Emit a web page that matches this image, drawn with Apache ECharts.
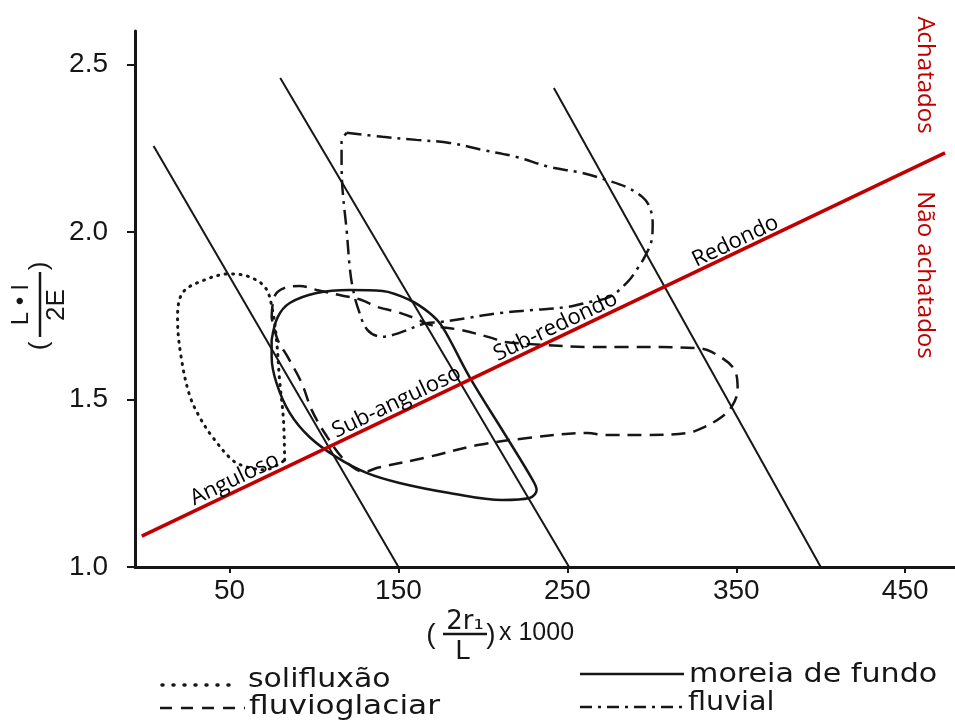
<!DOCTYPE html>
<html>
<head>
<meta charset="utf-8">
<script src="https://cdn.jsdelivr.net/npm/echarts@6/dist/echarts.min.js"></script>
<style>
  html, body { margin: 0; padding: 0; background: #fff; }
  #chart { width: 955px; height: 724px; }
</style>
</head>
<body>
<div id="chart"></div>
<script>
// Axis ticks
const xTicks = [50, 150, 250, 350, 450];
const yTicks = [1.0, 1.5, 2.0, 2.5];

// Roundness class boundaries (2r1/L x 1000, (L+l)/2E)
const boundaryA = [[5, 2.257], [150, 1.0]];
const boundaryB = [[80, 2.46], [251, 1.0]];
const boundaryC = [[242, 2.43], [400, 1.0]];

// Flat / not flat separation
const flatLine = [[-2, 1.092], [473.6, 2.236]];

// Class names written along the separation line, with their anchor points
const classNames = ['Anguloso', 'Sub-anguloso', 'Sub-redondo', 'Redondo'];
const classAnchors = [[53.0, 1.262], [148.9, 1.492], [243.0, 1.718], [349.5, 1.972]];

// Envelopes of each deposit type
const solifluxao = [
  [82.6, 1.319], [81.9, 1.439], [79.6, 1.558], [77.8, 1.678], [75.4, 1.767],
  [71.3, 1.833], [61.8, 1.866], [50.0, 1.875], [35.2, 1.857], [22.1, 1.818],
  [19.2, 1.737], [21.6, 1.618], [26.3, 1.513], [32.2, 1.448], [39.9, 1.388],
  [51.7, 1.319], [60.0, 1.299], [70.7, 1.290], [82.6, 1.319]
];

const moreiaDeFundo = [
  [74.9, 1.678], [78.5, 1.746], [85.6, 1.788], [101.5, 1.818], [121.1, 1.827],
  [140.6, 1.824], [156.6, 1.797], [168.4, 1.758], [176.1, 1.716], [192.1, 1.567],
  [214.0, 1.388], [229.4, 1.260], [231.8, 1.230], [227.6, 1.206], [211.6, 1.200],
  [180.2, 1.221], [150.6, 1.251], [131.1, 1.281], [113.3, 1.328], [97.3, 1.388],
  [85.6, 1.460], [77.8, 1.549], [74.9, 1.627], [74.9, 1.678]
];

const fluvioglaciar = [
  [74.9, 1.743], [76.7, 1.809], [82.6, 1.833], [91.5, 1.839], [101.5, 1.827],
  [115.1, 1.812], [128.1, 1.797], [137.6, 1.776], [149.4, 1.761], [159.5, 1.743],
  [169.5, 1.722], [187.3, 1.707], [205.1, 1.684], [212.8, 1.672], [236.5, 1.663],
  [260.2, 1.657], [285.7, 1.657], [325.3, 1.654], [335.4, 1.642], [349.0, 1.588],
  [350.8, 1.528], [347.2, 1.478], [341.3, 1.448], [331.3, 1.418], [321.2, 1.400],
  [295.7, 1.394], [272.1, 1.394], [262.0, 1.400], [226.5, 1.385], [196.9, 1.364],
  [167.3, 1.328], [137.6, 1.296], [129.9, 1.284], [118.1, 1.319], [106.3, 1.400],
  [98.6, 1.469], [92.7, 1.549], [84.4, 1.627], [78.5, 1.678], [74.9, 1.743]
];

const fluvial = [
  [119.3, 2.296], [140.6, 2.284], [160.7, 2.275], [180.3, 2.266], [199.8, 2.245],
  [219.9, 2.224], [239.5, 2.194], [259.0, 2.176], [273.2, 2.155], [285.0, 2.134],
  [294.5, 2.104], [298.7, 2.075], [300.5, 2.027], [299.9, 1.976], [295.7, 1.925],
  [291.0, 1.887], [285.7, 1.851], [275.0, 1.806], [263.1, 1.791], [249.5, 1.776],
  [229.4, 1.767], [209.9, 1.758], [190.3, 1.743], [174.3, 1.731], [166.6, 1.728],
  [150.6, 1.699], [140.6, 1.687], [131.7, 1.707], [125.8, 1.776], [122.8, 1.836],
  [121.1, 1.896], [119.3, 2.006], [116.9, 2.125], [116.3, 2.215], [116.3, 2.269],
  [119.3, 2.296]
];

const INK = '#161616';
const RED = '#c00000';
const tickFont = '"Liberation Sans", Arial, sans-serif';
const gothic = '"DejaVu Sans", sans-serif';

const chart = echarts.init(document.getElementById('chart'), null, { renderer: 'canvas' });

function straight(data, width) {
  return {
    type: 'line', data: data, symbol: 'none', silent: true,
    lineStyle: { color: INK, width: width, type: 'solid' }, z: 3
  };
}

function envelope(name, data, dash, width, cap) {
  return {
    name: name, type: 'line', data: data, symbol: 'none', smooth: 0.35, silent: true,
    lineStyle: { color: INK, width: width, type: dash, cap: cap || 'butt' }, z: 4
  };
}

function centred(extra) {
  return Object.assign({ fill: INK, textAlign: 'center', textVerticalAlign: 'middle',
    align: 'center', verticalAlign: 'middle' }, extra);
}

function leftText(extra) {
  return Object.assign({ fill: INK, fontFamily: gothic, fontSize: 26, textAlign: 'left',
    textVerticalAlign: 'middle', align: 'left', verticalAlign: 'middle' }, extra);
}

const option = {
  animation: false,
  backgroundColor: '#fff',
  grid: { left: 135, top: 31, width: 820, height: 536, containLabel: false },
  xAxis: {
    type: 'value', min: -6, max: 479.5,
    splitLine: { show: false },
    axisLine: { show: true, onZero: false, lineStyle: { color: INK, width: 3 } },
    axisTick: { show: true, customValues: xTicks, length: 6, lineStyle: { color: INK, width: 2 } },
    axisLabel: { customValues: xTicks, color: INK, fontSize: 28, fontFamily: tickFont, margin: 10 }
  },
  yAxis: {
    type: 'value', min: 1.0, max: 2.6,
    splitLine: { show: false },
    axisLine: { show: true, onZero: false, lineStyle: { color: INK, width: 3 } },
    axisTick: { show: true, customValues: yTicks, length: 8, lineStyle: { color: INK, width: 2 } },
    axisLabel: {
      customValues: yTicks, color: INK, fontSize: 28, fontFamily: tickFont, margin: 27,
      formatter: v => v.toFixed(1)
    }
  },
  series: [
    straight(boundaryA, 2),
    straight(boundaryB, 2),
    straight(boundaryC, 2),
    envelope('solifluxão', solifluxao, [1, 6.5], 3, 'round'),
    envelope('moreia de fundo', moreiaDeFundo, 'solid', 2.5),
    envelope('fluvioglaciar', fluvioglaciar, [14, 8], 2.5),
    envelope('fluvial', fluvial, [15, 6, 3, 6], 2.5),
    {
      type: 'line', data: flatLine, symbol: 'none', silent: true, z: 6,
      lineStyle: { color: RED, width: 3.5 }
    },
    {
      type: 'scatter', silent: true, z: 7,
      data: classAnchors.map((p, i) => ({ value: p, name: classNames[i] })),
      symbolSize: 1, itemStyle: { color: 'rgba(255,255,255,0)' },
      label: {
        show: true, position: 'inside', formatter: p => p.name, rotate: 25.6,
        color: '#000', fontSize: 22, fontFamily: '"Open Sans", sans-serif',
        textBorderWidth: 0, opacity: 1,
        align: 'center', verticalAlign: 'middle'
      },
      labelLayout: { hideOverlap: false }
    }
  ],
  graphic: [
    // flatness zones
    { type: 'text', x: 925, y: 75, rotation: -Math.PI / 2,
      style: centred({ text: 'Achatados', fill: RED, fontSize: 24, fontFamily: '"Open Sans", sans-serif' }) },
    { type: 'text', x: 925, y: 275, rotation: -Math.PI / 2,
      style: centred({ text: 'Não achatados', fill: RED, fontSize: 24, fontFamily: '"Open Sans", sans-serif' }) },
    // vertical axis title: ( L • l / 2E )
    {
      type: 'group', x: 40, y: 305, rotation: Math.PI / 2,
      children: [
        { type: 'text', x: -41, y: 0, style: centred({ text: '(', fontSize: 26, fontFamily: tickFont }) },
        { type: 'text', x: 0, y: -19, style: centred({ text: 'L • l', fontSize: 24, fontFamily: tickFont }) },
        { type: 'line', shape: { x1: -32, y1: 0, x2: 33, y2: 0 }, style: { stroke: INK, lineWidth: 2.5 } },
        { type: 'text', x: 0, y: 17, style: centred({ text: '2E', fontSize: 26, fontFamily: tickFont }) },
        { type: 'text', x: 39, y: 0, style: centred({ text: ')', fontSize: 26, fontFamily: tickFont }) }
      ]
    },
    // horizontal axis title: ( 2r1 / L ) x 1000
    { type: 'text', x: 431, y: 635, style: centred({ text: '(', fontSize: 28, fontFamily: tickFont }) },
    { type: 'text', x: 465, y: 622, style: centred({ text: '2r₁', fontSize: 26, fontFamily: gothic, fontWeight: 500 }) },
    { type: 'line', shape: { x1: 443, y1: 634, x2: 487, y2: 634 }, style: { stroke: INK, lineWidth: 2.5 } },
    { type: 'text', x: 463, y: 652, style: centred({ text: 'L', fontSize: 27, fontFamily: tickFont }) },
    { type: 'text', x: 491, y: 635, style: centred({ text: ')', fontSize: 28, fontFamily: tickFont }) },
    { type: 'text', x: 499, y: 633, style: leftText({ text: 'x 1000', fontSize: 25, fontFamily: tickFont }) },
    // key
    { type: 'line', shape: { x1: 162, y1: 685, x2: 238, y2: 685 },
      style: { stroke: INK, lineWidth: 3.5, lineDash: [1, 10], lineCap: 'round' } },
    { type: 'text', x: 248, y: 680, scaleX: 1.15, style: leftText({ text: 'solifluxão' }) },
    { type: 'line', shape: { x1: 160, y1: 708, x2: 245, y2: 708 },
      style: { stroke: INK, lineWidth: 2.5, lineDash: [12, 9] } },
    { type: 'text', x: 249, y: 707, scaleX: 1.2, style: leftText({ text: 'fluvioglaciar' }) },
    { type: 'line', shape: { x1: 580, y1: 674, x2: 684, y2: 674 },
      style: { stroke: INK, lineWidth: 2.5 } },
    { type: 'text', x: 689, y: 675, scaleX: 1.16, style: leftText({ text: 'moreia de fundo' }) },
    { type: 'line', shape: { x1: 580, y1: 707, x2: 686, y2: 707 },
      style: { stroke: INK, lineWidth: 2.5, lineDash: [12, 6, 3, 6] } },
    { type: 'text', x: 688, y: 703, scaleX: 1.1, style: leftText({ text: 'fluvial' }) }
  ]
};

chart.setOption(option);
</script>
</body>
</html>
